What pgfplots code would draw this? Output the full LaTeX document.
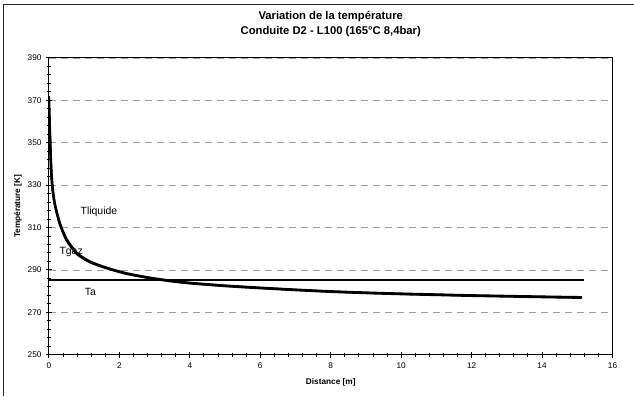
\documentclass[border=0pt]{standalone}
\usepackage{fontspec}
\setmainfont{Liberation Sans}
\usepackage{pgfplots}
\pgfplotsset{compat=1.18}
\begin{document}
\begin{tikzpicture}
\path (-49bp,-41bp) rectangle (585bp,355bp);
\draw[line width=1bp, black!85] (-45bp,-41bp) -- (-45bp,350.5bp) -- (585bp,350.5bp);
\begin{axis}[
  at={(0,0)}, anchor=south west,
  scale only axis, width=564bp, height=297bp,
  xmin=0, xmax=16, ymin=250, ymax=390,
  xtick={0,2,...,16}, ytick={250,270,...,390},
  minor x tick num=4, minor y tick num=4,
  tick align=center, xtick pos=bottom, ytick pos=left,
  major tick length=6bp, minor tick length=4bp,
  every tick/.style={black, line width=1bp},
  ymajorgrids,
  grid style={black!38, dash pattern=on 7bp off 5bp, line width=0.7bp},
  axis line style={line width=1bp},
  /pgf/number format/assume math mode=true,
  tick label style={font=\fontsize{8.3}{9}\selectfont},
  xticklabel style={yshift=-1.5bp},
  yticklabel style={xshift=-1bp},
  xlabel={Distance [m]}, ylabel={Température [K]},
  label style={font=\bfseries\fontsize{8.3}{9}\selectfont},
  xlabel style={at={(axis description cs:0.5,0)}, anchor=center, yshift=-28bp},
  ylabel style={at={(axis description cs:-0.055,0.5)}, anchor=center},
  title={Variation de la température\\Conduite D2 - L100 (165°C 8,4bar)},
  title style={font=\bfseries\fontsize{11.3}{15}\selectfont, align=center,
    at={(axis description cs:0.5,1)}, anchor=center, yshift=27.5bp},
]
% Ta
\addplot[black, line width=2.2bp] coordinates {(0,285.2) (15.2,285.2)};
% Tliquide
\addplot[black, line width=2.4bp, smooth, tension=0.4] coordinates {
(0,372) (0.02,360) (0.04,348) (0.077,334) (0.12,326.5) (0.17,321) (0.31,312)
(0.5,304.5) (0.79,298) (1.16,294) (1.64,291) (2.2,288.4) (2.87,286.3)
(3.5,284.8) (4,283.9) (5,282.6) (6,281.6) (7,280.7) (8,279.9) (9,279.3)
(10,278.8) (11,278.4) (12,278.0) (13,277.7) (14,277.4) (15.14,277.1)};
% Tgaz
\addplot[black, line width=2.4bp, smooth, tension=0.4] coordinates {
(0,364) (0.03,352) (0.06,337) (0.1,328) (0.17,320.5) (0.31,311.5)
(0.5,304) (0.79,297.6) (1.16,293.7) (1.64,290.8) (2.2,288.2) (2.87,286.1)
(3.5,284.6) (4,283.7) (5,282.4) (6,281.4) (7,280.5) (8,279.7) (9,279.1)
(10,278.6) (11,278.2) (12,277.8) (13,277.5) (14,277.2) (15.12,276.9)};
\node[anchor=west, font=\fontsize{10.5}{12}\selectfont] at (axis cs:0.8,317.5) {Tliquide};
\node[anchor=west, font=\fontsize{10.5}{12}\selectfont] at (axis cs:0.2,298.6) {Tgaz};
\node[anchor=west, font=\fontsize{10.5}{12}\selectfont] at (axis cs:0.92,279.8) {Ta};
\end{axis}
\end{tikzpicture}
\end{document}
